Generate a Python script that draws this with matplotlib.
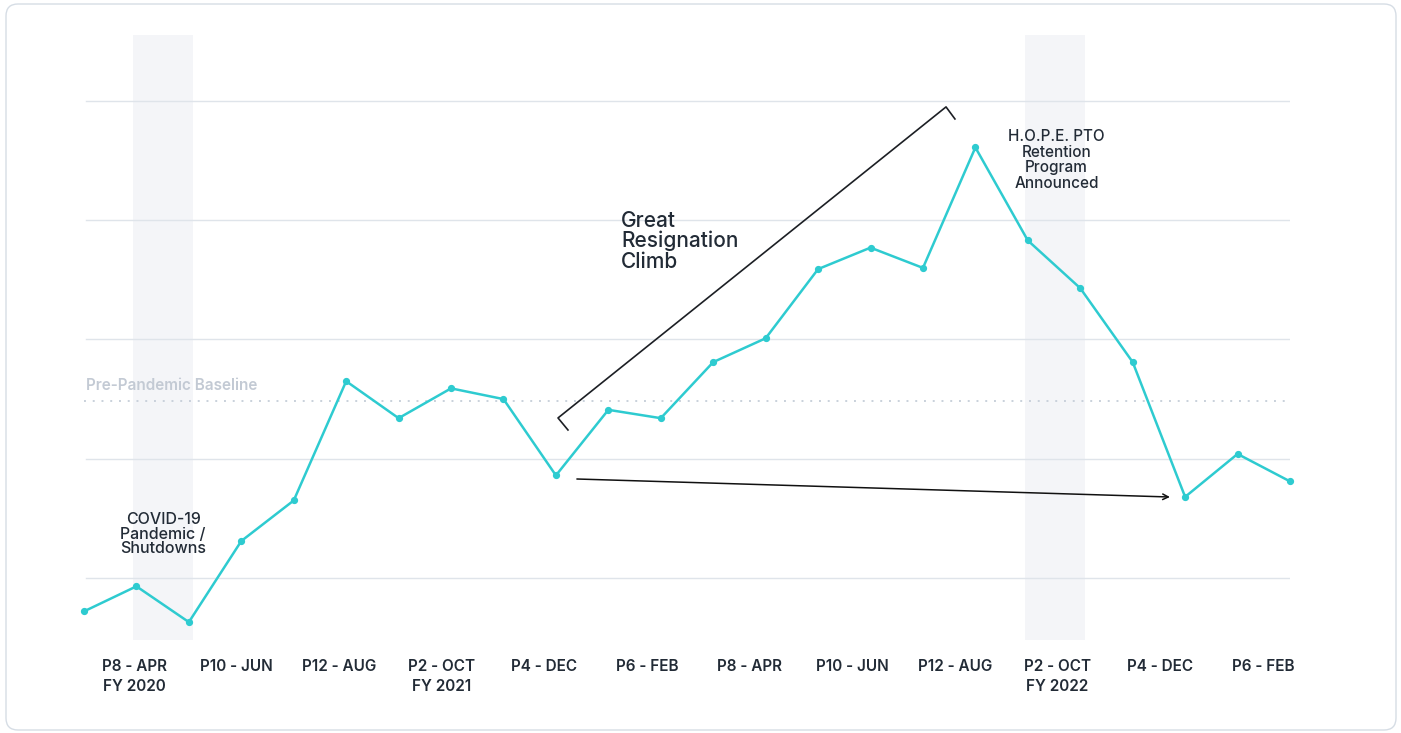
import numpy as np
import matplotlib
matplotlib.use('Agg')
import matplotlib.pyplot as plt
from matplotlib.patches import FancyBboxPatch
from matplotlib.transforms import IdentityTransform

plt.rcParams['font.family'] = ['Inter', 'DejaVu Sans']

# turnover index, one point per period (P7 FY2020 .. P6 FY2023)
values = [0.72, 0.93, 0.63, 1.31, 1.65, 2.65, 2.34, 2.59, 2.50, 1.86,
          2.41, 2.34, 2.81, 3.01, 3.59, 3.77, 3.60, 4.61, 3.83, 3.43,
          2.81, 1.68, 2.04, 1.81]
tick_labels = ['P8 - APR\nFY 2020', 'P10 - JUN', 'P12 - AUG', 'P2 - OCT\nFY 2021',
               'P4 - DEC', 'P6 - FEB', 'P8 - APR', 'P10 - JUN', 'P12 - AUG',
               'P2 - OCT\nFY 2022', 'P4 - DEC', 'P6 - FEB']
baseline = 2.484
shaded = [(0.93, 2.08), (17.95, 19.09)]

teal = '#2ecbd0'
dark = '#222b36'
grid_c = '#dfe4ea'

fig = plt.figure(figsize=(14.01, 7.33), dpi=100)
W, H = 1401, 733
ax = fig.add_axes([84 / W, (H - 640) / H, (1290 - 84) / W, (640 - 35) / H])

x = np.arange(len(values))
ax.set_xlim(0, len(values) - 1)
ax.set_ylim(0.48, 5.553)

for a, b in shaded:
    ax.axvspan(a, b, color='#f4f5f8', lw=0, zorder=0)

for g in range(1, 6):
    ax.plot([0.04, len(values) - 1], [g, g], color=grid_c, lw=1, zorder=1)

ax.axhline(baseline, color='#c9d1db', lw=1.4, ls=(0, (1, 3.5)), zorder=1)
ax.text(0.04, baseline + 0.065, 'Pre-Pandemic Baseline', color='#c3cad4',
        fontsize=11, fontweight='semibold', ha='left', va='bottom')

ax.plot(x, values, color=teal, lw=1.8, marker='o', markersize=4.2,
        zorder=3, clip_on=False)

# bracket over the climb
ax.plot([9.23, 9.04, 16.44, 16.61], [2.241, 2.342, 4.950, 4.849],
        color='#1c1f24', lw=1.2, zorder=2, clip_on=False)
ax.text(10.24, 4.08, 'Great\nResignation\nClimb', fontsize=15, fontweight='medium',
        color=dark, ha='left', va='top', linespacing=1.02)

ax.annotate('', xy=(20.71, 1.679), xytext=(9.40, 1.83),
            arrowprops=dict(arrowstyle='->', color='#111111', lw=1.1,
                            shrinkA=0, shrinkB=0))

ax.text(1.51, 1.555, 'COVID-19\nPandemic /\nShutdowns', fontsize=11.5, fontweight='medium',
        color=dark, ha='center', va='top', linespacing=0.98)
ax.text(18.55, 4.765, 'H.O.P.E. PTO\nRetention\nProgram\nAnnounced', fontsize=11,
        fontweight='medium', color=dark, ha='center', va='top', linespacing=1.05)

ticks = [0.954 + 1.957 * k for k in range(len(tick_labels))]
ax.set_xticks(ticks)
ax.set_xticklabels(tick_labels, fontsize=11, fontweight='semibold', color=dark,
                   linespacing=1.35)
ax.tick_params(axis='x', length=0, pad=14)
ax.set_yticks([])
for s in ax.spines.values():
    s.set_visible(False)

card = FancyBboxPatch((6, 3), 1390, 726, boxstyle='round,pad=0,rounding_size=12',
                      transform=IdentityTransform(), fill=False,
                      edgecolor='#d6dde5', lw=1)
fig.patches.append(card)

fig.savefig('out.png', dpi=100)
